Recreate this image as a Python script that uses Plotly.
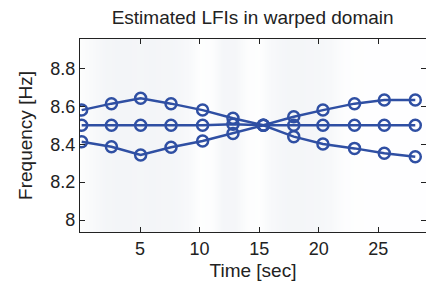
import plotly.graph_objects as go

title = "Estimated LFIs in warped domain"
time_pts = [0.1, 2.6, 5.05, 7.6, 10.25, 12.8, 15.35, 17.9, 20.35, 23.0, 25.5, 28.1]
upper = [8.58, 8.614, 8.642, 8.614, 8.58, 8.537, 8.5, 8.545, 8.58, 8.614, 8.633, 8.633]
middle = [8.5, 8.5, 8.5, 8.5, 8.5, 8.505, 8.5, 8.5, 8.5, 8.5, 8.5, 8.5]
lower = [8.413, 8.387, 8.343, 8.384, 8.417, 8.457, 8.5, 8.44, 8.401, 8.378, 8.352, 8.334]

# faint background time-frequency image (column intensities)
bg_t = [0, 1, 2, 3, 4, 5, 6, 7, 8, 9, 10, 11, 12, 13, 14, 15, 16, 17, 18, 19, 20, 21, 22, 23, 24, 25, 26, 27, 28, 29]
bg_v = [0.2, 0.5, 0.8, 0.9, 0.9, 0.85, 0.9, 0.85, 0.8, 0.6, 0.1, 0.2, 0.8, 0.8, 0.2, 0.1, 0.6, 0.8, 0.85, 0.8, 0.75, 0.6, 0.2, 0.1, 0.05, 0.05, 0.05, 0.05, 0.05, 0.05]
bg_f = [7.9, 9.0]

xticks = [5, 10, 15, 20, 25]
yticks = [8, 8.2, 8.4, 8.6, 8.8]
yticklabels = ["8", "8.2", "8.4", "8.6", "8.8"]

col = "#2f4fa3"
fig = go.Figure()
fig.add_trace(go.Heatmap(x=bg_t, y=bg_f, z=[bg_v, bg_v], showscale=False,
                         colorscale=[[0, "#ffffff"], [1, "#f2f4f7"]], zmin=0, zmax=1,
                         hoverinfo="skip", zsmooth="best"))
for ys in (upper, middle, lower):
    fig.add_trace(go.Scatter(x=time_pts, y=ys, mode="lines+markers",
                             line=dict(color=col, width=2.5),
                             marker=dict(symbol="circle-open", size=11, color=col,
                                         line=dict(width=2.5, color=col)),
                             showlegend=False))

font = "Liberation Sans, Arial, sans-serif"
fig.update_layout(
    width=426, height=287,
    margin=dict(l=80, r=0, t=39, b=55),
    paper_bgcolor="white", plot_bgcolor="white",
    title=dict(text=title, x=0.593, xanchor="center", y=0.94, yanchor="middle",
               font=dict(family=font, size=19, color="#222")),
    font=dict(family=font, size=18, color="#222"),
)
fig.update_xaxes(range=[-0.04, 29.0], tickvals=xticks, ticks="inside", ticklen=5,
                 tickcolor="#222", showline=True, linecolor="#222", linewidth=1.2,
                 mirror="ticks", showgrid=False, zeroline=False, automargin=False,
                 tickfont=dict(size=18),
                 title=dict(text="Time [sec]", standoff=5, font=dict(size=19)))
fig.update_yaxes(range=[7.937, 8.955], tickvals=yticks, ticktext=yticklabels,
                 ticks="inside", ticklen=5, tickcolor="#222", showline=True,
                 linecolor="#222", linewidth=1.2, mirror="ticks", showgrid=False,
                 zeroline=False, automargin=False, tickfont=dict(size=18),
                 title=dict(text="Frequency [Hz]", standoff=12, font=dict(size=19)))
fig.write_html("out.html", config={"displayModeBar": False},
               post_script="document.body.style.margin='0';document.body.style.overflow='hidden';")
